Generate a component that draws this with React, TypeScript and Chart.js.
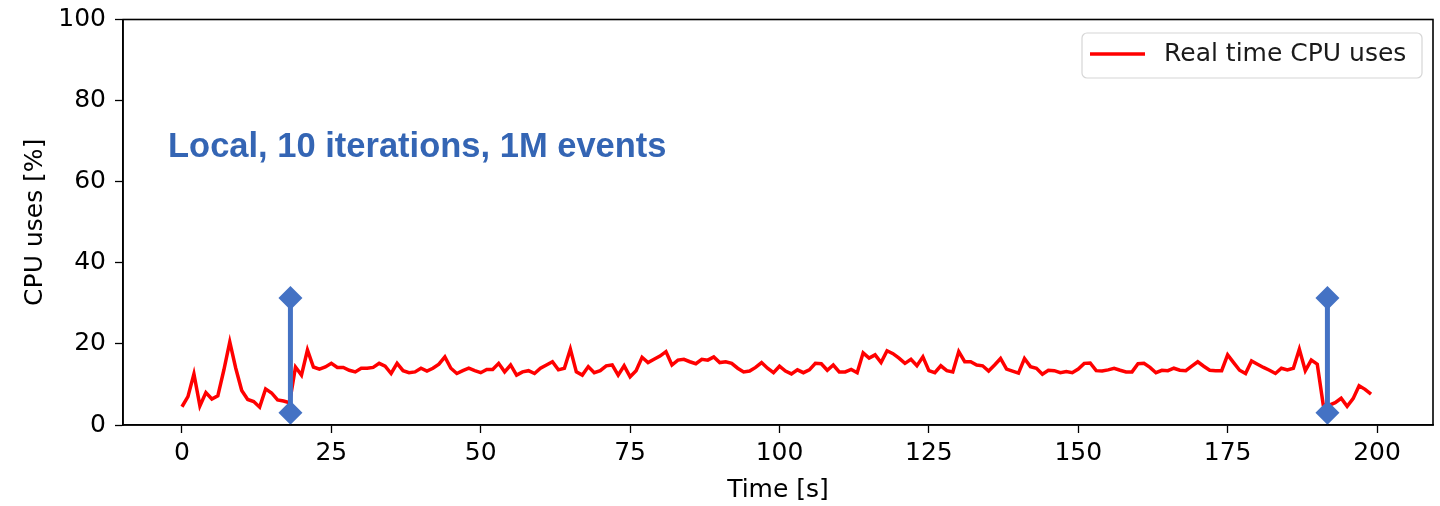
import React, { useEffect, useRef } from 'react';
import { Chart, registerables } from 'chart.js';

Chart.register(...registerables);

// ---- data ----
const cpuUses: number[] = [
  4.5, 7, 12.6, 4.7, 8, 6.4, 7.2, 13.5, 20.5, 14, 8.5, 6.3, 5.8, 4.4, 8.9, 7.9, 6.2, 5.9, 5.5,
  14.3, 12.3, 18.5, 14.3, 13.8, 14.3, 15.2, 14.2, 14.2, 13.5, 13.1, 14, 14, 14.2,
  15.2, 14.5, 12.7, 15.2, 13.4, 12.9, 13.1, 14, 13.3, 14, 15, 16.8, 14, 12.7, 13.4, 14, 13.4, 12.9,
  13.7, 13.7, 15.2, 13.1, 14.8, 12.3, 13.1, 13.4, 12.7, 14, 14.8, 15.6, 13.6, 14, 18.7, 13.1,
  12.3, 14.4, 12.9, 13.4, 14.6, 14.8, 12.3, 14.6, 11.9, 13.4, 16.7, 15.4, 16.2, 17, 18.1, 14.8, 16,
  16.2, 15.6, 15.1, 16.2, 16, 16.8, 15.4, 15.6, 15.2, 14, 13.1, 13.3, 14.2, 15.4, 14, 12.9, 14.5,
  13.3, 12.6, 13.6, 12.9, 13.6, 15.2, 15.1, 13.5, 14.8, 13.1, 13.1, 13.7, 12.9, 17.8, 16.5, 17.3,
  15.4, 18.3, 17.6, 16.5, 15.2, 16.2, 14.6, 16.8, 13.4, 12.9, 14.6, 13.4, 13.1, 18.1, 15.6, 15.6, 14.8,
  14.6, 13.3, 14.8, 16.4, 13.8, 13.3, 12.8, 16.4, 14.4, 14, 12.5, 13.5, 13.4, 12.9, 13.2, 12.9, 13.8,
  15.2, 15.3, 13.4, 13.3, 13.6, 14, 13.5, 13.1, 13.1, 15.1, 15.2, 14.2, 12.9, 13.5, 13.4, 14, 13.5,
  13.4, 14.5, 15.6, 14.5, 13.5, 13.4, 13.4, 17.3, 15.4, 13.5, 12.7, 15.8, 15, 14.2, 13.5, 12.7,
  14, 13.6, 14, 18.7, 13.4, 16, 15, 5, 4.9, 5.5, 6.6, 4.6, 6.5, 9.7, 8.8, 7.6,
];
const timeSeconds: number[] = cpuUses.map((_, i) => i);

const markerTimes: number[] = [18.15, 191.7];
const markerLevels: number[] = [31.3, 3.0];

const xTickValues: number[] = [0, 25, 50, 75, 100, 125, 150, 175, 200];
const yTickValues: number[] = [0, 20, 40, 60, 80, 100];

const seriesLabel = 'Real time CPU uses';
const annotationText = 'Local, 10 iterations, 1M events';
const xTitle = 'Time [s]';
const yTitle = 'CPU uses [%]';

const FONT = '"DejaVu Sans", sans-serif';
const FONT_SIZE = 25;
const MARKER_BLUE = '#4472C4';

const decorPlugin = {
  id: 'decor',
  afterDatasetsDraw(chart: any) {
    const { ctx, chartArea } = chart;
    ctx.save();
    // frame (top/right spines)
    ctx.strokeStyle = '#000';
    ctx.lineWidth = 1.6;
    ctx.strokeRect(chartArea.left, chartArea.top, chartArea.right - chartArea.left, chartArea.bottom - chartArea.top);

    // annotation text
    ctx.fillStyle = '#3465B4';
    ctx.font = 'bold 34.5px "Liberation Sans", Arial, sans-serif';
    ctx.textBaseline = 'middle';
    ctx.textAlign = 'left';
    ctx.fillText(annotationText, 168, 147);

    // legend (matplotlib style)
    const bx = 1082, by = 33, bw = 340, bh = 45, r = 5;
    ctx.beginPath();
    ctx.moveTo(bx + r, by);
    ctx.lineTo(bx + bw - r, by);
    ctx.arcTo(bx + bw, by, bx + bw, by + r, r);
    ctx.lineTo(bx + bw, by + bh - r);
    ctx.arcTo(bx + bw, by + bh, bx + bw - r, by + bh, r);
    ctx.lineTo(bx + r, by + bh);
    ctx.arcTo(bx, by + bh, bx, by + bh - r, r);
    ctx.lineTo(bx, by + r);
    ctx.arcTo(bx, by, bx + r, by, r);
    ctx.closePath();
    ctx.fillStyle = 'rgba(255,255,255,0.8)';
    ctx.fill();
    ctx.strokeStyle = '#d6d6d6';
    ctx.lineWidth = 1.2;
    ctx.stroke();

    ctx.strokeStyle = '#ff0000';
    ctx.lineWidth = 3.5;
    ctx.beginPath();
    ctx.moveTo(1090, 54);
    ctx.lineTo(1145, 54);
    ctx.stroke();

    ctx.fillStyle = '#1a1a1a';
    ctx.font = `${FONT_SIZE}px ${FONT}`;
    ctx.textBaseline = 'middle';
    ctx.fillText(seriesLabel, 1164, 54);
    ctx.restore();
  },
};

export default function App() {
  const canvasRef = useRef<HTMLCanvasElement | null>(null);

  useEffect(() => {
    document.body.style.margin = '0';
    const canvas = canvasRef.current;
    if (!canvas) return;

    const markerDatasets = markerTimes.map((t) => ({
      label: 'marker',
      data: markerLevels.map((v) => ({ x: t, y: v })),
      borderColor: MARKER_BLUE,
      backgroundColor: MARKER_BLUE,
      borderWidth: 5,
      pointStyle: 'rectRot',
      pointRadius: 12,
      pointBorderWidth: 0,
      pointBackgroundColor: MARKER_BLUE,
      tension: 0,
      order: 0,
      clip: false,
    }));

    const chart = new Chart(canvas, {
      type: 'line',
      data: {
        datasets: [
          {
            label: seriesLabel,
            data: timeSeconds.map((t, i) => ({ x: t, y: cpuUses[i] })),
            borderColor: '#ff0000',
            backgroundColor: '#ff0000',
            borderWidth: 3.5,
            pointRadius: 0,
            tension: 0,
            order: 1,
          },
          ...markerDatasets,
        ] as any,
      },
      options: {
        responsive: false,
        animation: false,
        devicePixelRatio: 1,
        layout: { autoPadding: false, padding: { top: 19.5, right: 7, left: 0, bottom: 0 } },
        plugins: {
          legend: { display: false },
          tooltip: { enabled: false },
        },
        scales: {
          x: {
            type: 'linear',
            min: -9.87,
            max: 209.37,
            afterBuildTicks: (scale: any) => {
              scale.ticks = xTickValues.map((v) => ({ value: v }));
            },
            afterFit: (scale: any) => {
              scale.height = 81;
              scale.paddingLeft = 0;
              scale.paddingRight = 0;
            },
            grid: {
              display: true,
              drawOnChartArea: false,
              drawTicks: true,
              tickLength: 8,
              tickWidth: 1.3,
              tickColor: '#000',
              color: '#000',
            },
            border: { display: true, color: '#000', width: 1.6 },
            ticks: {
              color: '#000',
              font: { family: FONT, size: FONT_SIZE },
              padding: 5,
              maxRotation: 0,
              autoSkip: false,
            },
            title: {
              display: true,
              text: xTitle,
              color: '#000',
              font: { family: FONT, size: FONT_SIZE },
              padding: { top: 0, bottom: 1 },
            },
          },
          y: {
            type: 'linear',
            min: 0,
            max: 100,
            afterBuildTicks: (scale: any) => {
              scale.ticks = yTickValues.map((v) => ({ value: v }));
            },
            afterFit: (scale: any) => {
              scale.width = 123;
              scale.paddingTop = 0;
              scale.paddingBottom = 0;
            },
            grid: {
              display: true,
              drawOnChartArea: false,
              drawTicks: true,
              tickLength: 8,
              tickWidth: 1.3,
              tickColor: '#000',
              color: '#000',
            },
            border: { display: true, color: '#000', width: 1.6 },
            ticks: {
              color: '#000',
              font: { family: FONT, size: FONT_SIZE },
              padding: 9,
              autoSkip: false,
            },
            title: {
              display: true,
              text: yTitle,
              color: '#000',
              font: { family: FONT, size: FONT_SIZE },
              padding: { top: 20, bottom: 0 },
            },
          },
        },
      },
      plugins: [decorPlugin],
    });

    return () => {
      chart.destroy();
    };
  }, []);

  return (
    <div style={{ width: 1440, height: 506 }}>
      <canvas ref={canvasRef} width={1440} height={506} style={{ display: 'block' }} />
    </div>
  );
}
